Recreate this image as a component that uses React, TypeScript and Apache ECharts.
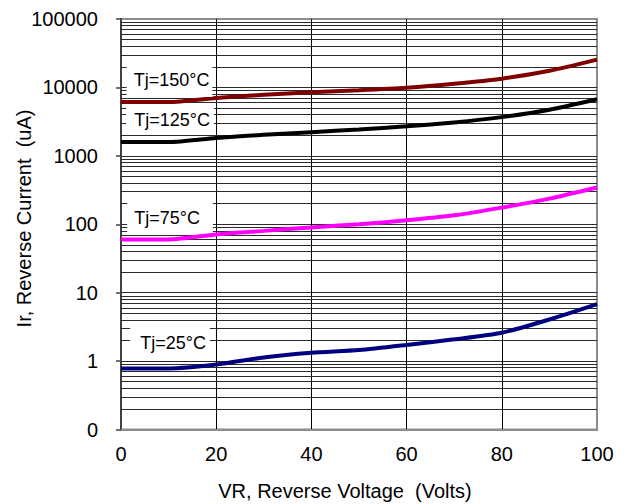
import React, { useEffect, useRef } from "react";
import * as echarts from "echarts";

const FONT = '"Liberation Sans", Arial, Helvetica, sans-serif';

// Reverse voltage (V)
const voltages = [0, 10, 20, 30, 40, 50, 60, 70, 80, 90, 100];
// Reverse current (uA) per junction temperature
const current150 = [6100, 6100, 7000, 7800, 8500, 9100, 9900, 11300, 13400, 17500, 25500];
const current125 = [1590, 1590, 1820, 2030, 2220, 2430, 2700, 3080, 3680, 4720, 6700];
const current75 = [60, 60, 71, 80, 90, 100, 114, 135, 175, 237, 345];
const current25 = [0.78, 0.78, 0.89, 1.13, 1.32, 1.45, 1.72, 2.08, 2.6, 4.05, 6.8];

const seriesNames = ["Tj=150°C", "Tj=125°C", "Tj=75°C", "Tj=25°C"];

// Label anchor points (data coordinates: volts, uA)
const labelVolts = [10.2, 10.3, 10.3, 10.3];
const labelCurrents = [13000, 3340, 125, 1.84];

// y-axis decades and minor multipliers for the log grid
const decades = [0.1, 1, 10, 100, 1000, 10000];
const minorMultipliers = [2, 3, 4, 5, 6, 7, 8, 9];

const xTitle = "VR, Reverse Voltage  (Volts)";
const yTitle = "Ir, Reverse Current  (uA)";

export default function App() {
  const ref = useRef<HTMLDivElement>(null);

  useEffect(() => {
    if (!ref.current) return;
    const chart = echarts.init(ref.current, undefined, { renderer: "svg" });

    const allData = [current150, current125, current75, current25];
    const colors = ["#800000", "#000000", "#ff00ff", "#000080"];
    const paddings = [
      [7, 3, 8, 7],
      [4, 4, 4, 8],
      [4, 13, 5, 7],
      [6, 4, 4, 10],
    ];

    const minorValues: number[] = [];
    decades.forEach((d) =>
      minorMultipliers.forEach((m) => minorValues.push(Number((d * m).toPrecision(3))))
    );

    const curveSeries = allData.map((vals, i) => ({
      name: seriesNames[i],
      type: "line",
      data: voltages.map((v, j) => [v, vals[j]]),
      smooth: 0.25,
      showSymbol: false,
      symbol: "none",
      lineStyle: { color: colors[i], width: 4 },
      itemStyle: { color: colors[i] },
      z: 3,
      markPoint: {
        z: 10,
        silent: true,
        symbol: "circle",
        symbolSize: 1,
        itemStyle: { color: "rgba(0,0,0,0)" },
        data: [
          {
            coord: [labelVolts[i], labelCurrents[i]],
            label: {
              show: true,
              position: "inside",
              formatter: seriesNames[i],
              color: "#000",
              fontSize: 18,
              fontFamily: FONT,
              backgroundColor: "#ffffff",
              padding: paddings[i],
              lineHeight: 20,
            },
          },
        ],
      },
    }));

    const gridSeries = {
      name: "minor-grid",
      type: "line",
      data: [],
      silent: true,
      markLine: {
        z: 1,
        silent: true,
        symbol: ["none", "none"],
        label: { show: false },
        lineStyle: { color: "#2b2b2b", width: 1, type: "solid" },
        emphasis: { disabled: true },
        data: minorValues.map((v) => ({ yAxis: v })),
      },
    };

    chart.setOption({
      animation: false,
      backgroundColor: "#ffffff",
      textStyle: { fontFamily: FONT },
      grid: {
        left: 121,
        top: 19,
        width: 476,
        height: 410.5,
        show: true,
        borderColor: "#8c8c8c",
        borderWidth: 2,
        backgroundColor: "transparent",
        containLabel: false,
      },
      xAxis: {
        type: "value",
        min: 0,
        max: 100,
        interval: 20,
        axisLine: { show: true, onZero: false, lineStyle: { color: "#8c8c8c", width: 2 } },
        axisTick: { show: false },
        axisLabel: { fontSize: 20, color: "#000", margin: 14, fontFamily: FONT },
        splitLine: {
          show: true,
          showMinLine: false,
          showMaxLine: false,
          lineStyle: { color: "#000", width: 1 },
        },
      },
      yAxis: {
        type: "log",
        logBase: 10,
        min: 0.1,
        max: 100000,
        axisLine: { show: true, lineStyle: { color: "#404040", width: 2 } },
        axisTick: { show: true, length: 5, lineStyle: { color: "#404040", width: 1.5 } },
        axisLabel: {
          fontSize: 20,
          color: "#000",
          margin: 23,
          fontFamily: FONT,
          formatter: (v: number) => (v < 0.5 ? "0" : String(Math.round(v))),
        },
        splitLine: {
          show: true,
          showMinLine: false,
          showMaxLine: false,
          lineStyle: { color: "#2b2b2b", width: 1 },
        },
      },
      graphic: [
        {
          type: "text",
          x: 345,
          y: 491,
          style: {
            text: xTitle,
            fontSize: 20,
            fontFamily: FONT,
            fill: "#000",
            align: "center",
            verticalAlign: "middle",
          },
        },
        {
          type: "text",
          x: 24,
          y: 218.5,
          rotation: Math.PI / 2,
          style: {
            text: yTitle,
            fontSize: 20,
            fontFamily: FONT,
            fill: "#000",
            align: "center",
            verticalAlign: "middle",
          },
        },
      ],
      series: [gridSeries, ...curveSeries],
    });

    return () => chart.dispose();
  }, []);

  return (
    <div
      ref={ref}
      style={{ position: "fixed", left: 0, top: 0, width: 627, height: 504, background: "#fff" }}
    />
  );
}
